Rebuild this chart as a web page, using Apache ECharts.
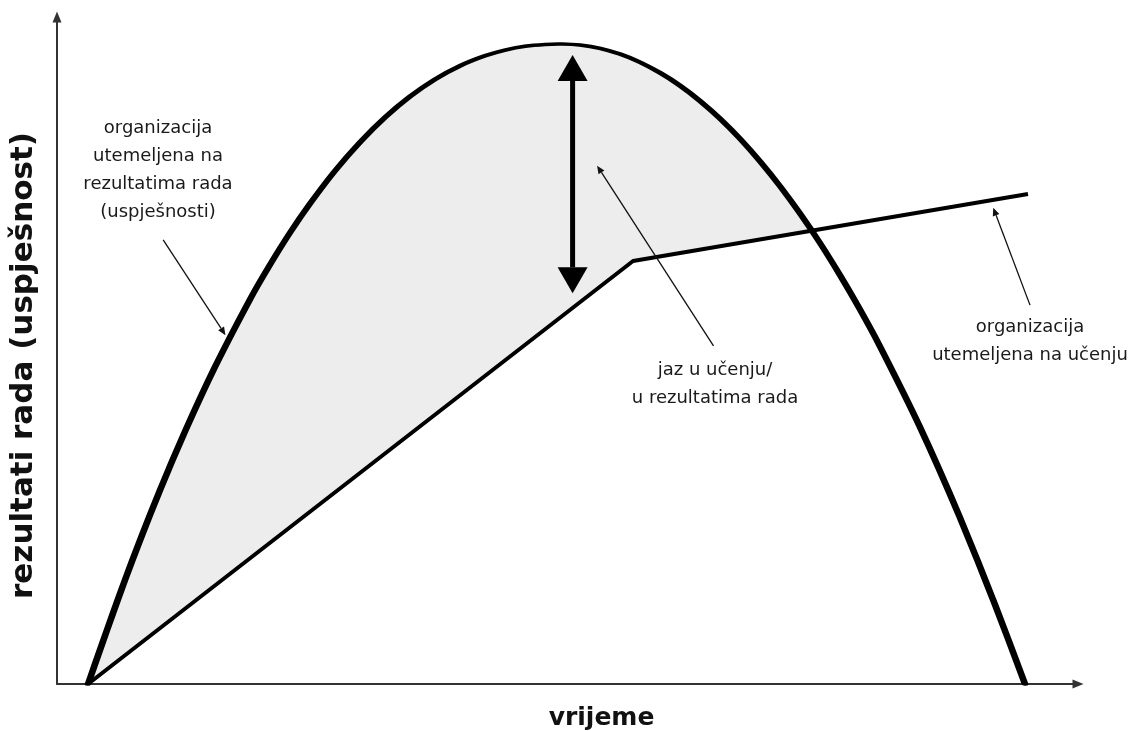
<!DOCTYPE html>
<html><head><meta charset="utf-8">
<script src="https://cdn.jsdelivr.net/npm/echarts@6/dist/echarts.min.js"></script>
<style>html,body{margin:0;padding:0;background:#fff}#c{width:1131px;height:731px}</style>
</head><body><div id="c"></div>
<script>
// ---- data (time on x, performance on y, both 0..100) ----
const performanceCurve = [
  [3.04,0],[3.62,2.52],[4.41,5.98],[5.39,10.22],[6.66,15.59],[8.13,21.53],[10.09,29.07],
  [12.54,37.87],[15.48,47.56],[18.90,57.66],[20.86,62.85],[22.82,67.65],[24.78,72.01],
  [27.23,76.93],[29.68,81.23],[32.13,84.95],[34.57,88.08],[37.02,90.66],[39.47,92.68],
  [41.92,94.18],[43.88,95.04],[45.84,95.61],[47.80,95.89],[49.46,95.95],[51.22,95.80],
  [53.18,95.31],[55.14,94.44],[57.10,93.22],[59.06,91.63],[61.02,89.72],[62.98,87.42],
  [64.94,84.77],[66.90,81.75],[68.85,78.38],[70.81,74.65],[72.77,70.55],[74.73,66.12],
  [76.69,61.30],[78.65,56.15],[80.61,50.61],[84.53,38.50],[88.44,24.95],[91.87,11.90],
  [94.81,0]
];
const learningCurve = [[3.04,0],[56.42,63.42],[95.10,73.46]];
const gapCrossing = [73.90, 67.96];
const gapArrow = [50.5, 58.6, 50.5, 94.3];           // x, yBottom, x, yTop
const calloutArrows = [                               // from (x,y) to tip (x,y)
  [10.4,66.6,16.5,52.3],
  [64.3,50.7,52.9,77.7],
  [95.3,56.8,91.7,71.4]
];
const xTitle = 'vrijeme';
const yTitle = 'rezultati rada (uspješnost)';
const calloutTexts = [
  'organizacija\nutemeljena na\nrezultatima rada\n(uspješnosti)',
  'jaz u učenju/\nu rezultatima rada',
  'organizacija\nutemeljena na učenju'
];

function head(tip, from, len, half){
  const dx = tip[0]-from[0], dy = tip[1]-from[1], d = Math.hypot(dx,dy);
  const ux = dx/d, uy = dy/d;
  const bx = tip[0]-ux*len, by = tip[1]-uy*len;
  return {pts:[[tip[0],tip[1]],[bx-uy*half,by+ux*half],[bx+uy*half,by-ux*half]], base:[bx,by]};
}
// the source drawing looks horizontally stretched: steep strokes are thicker than flat ones
const STRETCH = 1.9;

const chart = echarts.init(document.getElementById('c'), null, {renderer:'canvas'});
const FONT = '"DejaVu Sans", Verdana, sans-serif';
chart.setOption({
  backgroundColor:'#ffffff',
  animation:false,
  grid:{left:57, right:53, top:17, bottom:47, containLabel:false, outerBoundsMode:'none'},
  xAxis:{type:'value', min:0, max:100,
    axisLine:{show:true, onZero:false, symbol:['none','triangle'], symbolSize:[9,11], lineStyle:{color:'#333', width:2}},
    axisTick:{show:false}, axisLabel:{show:false}, splitLine:{show:false},
    name:xTitle, nameLocation:'middle', nameGap:22,
    nameTextStyle:{fontFamily:FONT, fontWeight:'bold', fontSize:25, color:'#111', padding:[0,0,0,68]}
  },
  yAxis:{type:'value', min:0, max:100,
    axisLine:{show:true, onZero:false, symbol:['none','triangle'], symbolSize:[9,11], lineStyle:{color:'#333', width:2}},
    axisTick:{show:false}, axisLabel:{show:false}, splitLine:{show:false},
    name:yTitle, nameLocation:'middle', nameGap:18,
    nameTextStyle:{fontFamily:FONT, fontWeight:'bold', fontSize:31, color:'#111', padding:[0,30,0,0]}
  },
  series:[
    {type:'custom', z:1, silent:true, clip:false, data:[[0,0]],
      renderItem:function(params, api){
        const upper = performanceCurve.filter(p => p[0] < gapCrossing[0]);
        const lower = learningCurve.filter(p => p[0] < gapCrossing[0] && p[0] > learningCurve[0][0]).reverse();
        const pts = upper.concat([gapCrossing], lower).map(p => api.coord(p));
        return {type:'polygon', shape:{points:pts}, style:{fill:'#ededed'}};
      }
    },
    {type:'custom', z:3, silent:true, clip:false, data:[[0,0]],
      renderItem:function(params, api){
        const pts = performanceCurve.map(p => { const c = api.coord(p); return [c[0]/STRETCH, c[1]]; });
        return {type:'group', scaleX:STRETCH, children:[
          {type:'polyline', shape:{points:pts, smooth:0.3},
            style:{stroke:'#000', lineWidth:3.6, fill:null, lineCap:'round', lineJoin:'round'}}
        ]};
      }
    },
    {type:'line', z:3, data:learningCurve, symbol:'none', silent:true,
      lineStyle:{color:'#000', width:4, join:'round'}},
    {type:'custom', z:4, silent:true, clip:false, data:[gapArrow],
      renderItem:function(params, api){
        const b = api.coord([api.value(0), api.value(1)]);
        const t = api.coord([api.value(2), api.value(3)]);
        const ht = head(t, b, 26, 15), hb = head(b, t, 26, 15);
        return {type:'group', children:[
          {type:'line', shape:{x1:hb.base[0], y1:hb.base[1], x2:ht.base[0], y2:ht.base[1]}, style:{stroke:'#000', lineWidth:5}},
          {type:'polygon', shape:{points:ht.pts}, style:{fill:'#000'}},
          {type:'polygon', shape:{points:hb.pts}, style:{fill:'#000'}}
        ]};
      }
    },
    {type:'custom', z:4, silent:true, clip:false, data:calloutArrows,
      renderItem:function(params, api){
        const f = api.coord([api.value(0), api.value(1)]);
        const t = api.coord([api.value(2), api.value(3)]);
        const h = head(t, f, 8, 3.5);
        return {type:'group', children:[
          {type:'line', shape:{x1:f[0], y1:f[1], x2:h.base[0], y2:h.base[1]}, style:{stroke:'#111', lineWidth:1.3}},
          {type:'polygon', shape:{points:h.pts}, style:{fill:'#111'}}
        ]};
      }
    }
  ],
  graphic:[
    {type:'text', x:158, y:170, z:10, style:{text:calloutTexts[0], align:'center', verticalAlign:'middle', textAlign:'center', textVerticalAlign:'middle', font:'18px '+FONT, lineHeight:28, fill:'#1a1a1a'}},
    {type:'text', x:715, y:384, z:10, style:{text:calloutTexts[1], align:'center', verticalAlign:'middle', textAlign:'center', textVerticalAlign:'middle', font:'18px '+FONT, lineHeight:28, fill:'#1a1a1a'}},
    {type:'text', x:1030, y:341, z:10, style:{text:calloutTexts[2], align:'center', verticalAlign:'middle', textAlign:'center', textVerticalAlign:'middle', font:'18px '+FONT, lineHeight:28, fill:'#1a1a1a'}}
  ]
});
</script></body></html>
